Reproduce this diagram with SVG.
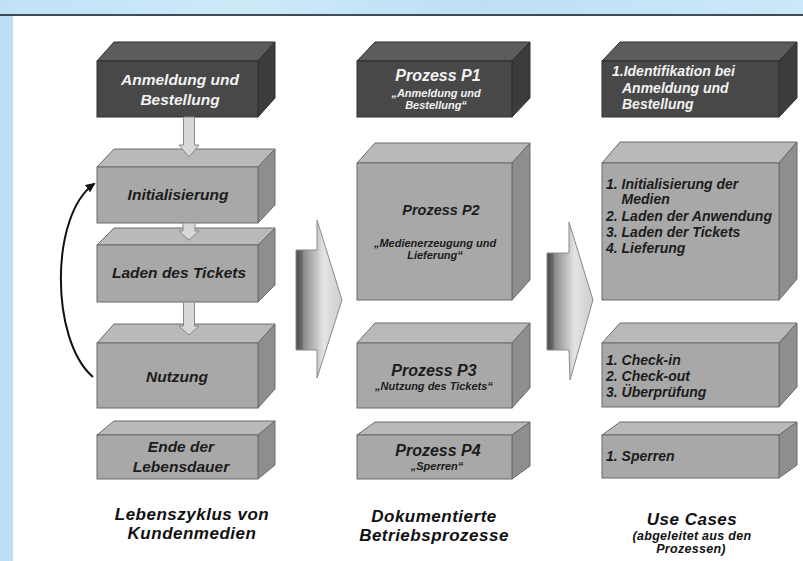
<svg xmlns="http://www.w3.org/2000/svg" width="803" height="561" viewBox="0 0 803 561">
<defs>
<linearGradient id="sky" x1="0" y1="0" x2="1" y2="0">
<stop offset="0" stop-color="#bfe2f6"/><stop offset="0.3" stop-color="#cde9f8"/><stop offset="0.6" stop-color="#bde0f5"/><stop offset="1" stop-color="#cbe8f8"/>
</linearGradient>
<linearGradient id="bigArrow" x1="0" y1="0" x2="1" y2="0">
<stop offset="0" stop-color="#4a4a4a"/><stop offset="0.13" stop-color="#6a6a6a"/><stop offset="0.17" stop-color="#8c8c8c"/><stop offset="0.6" stop-color="#e4e4e4"/><stop offset="1" stop-color="#cdcdcd"/>
</linearGradient>
<marker id="arrowHead" markerUnits="userSpaceOnUse" markerWidth="10" markerHeight="9" refX="8" refY="4.5" orient="auto">
<path d="M0,0 L10,4.5 L0,9 Z" fill="#111"/>
</marker>
<style>
.fd{fill:#484848;stroke:#2e2e2e;stroke-width:1}
.td{fill:#5c5c5c;stroke:#2e2e2e;stroke-width:1}
.rd{fill:#3c3c3c;stroke:#2e2e2e;stroke-width:1}
.fg{fill:#a8a8a8;stroke:#6a6a6a;stroke-width:1}
.tg{fill:#b9b9b9;stroke:#6a6a6a;stroke-width:1}
.rg{fill:#8e8e8e;stroke:#6a6a6a;stroke-width:1}
text{font-family:"Liberation Sans",Arial,sans-serif;font-weight:bold;font-style:italic}
.w{fill:#f2f2f2}
.k{fill:#1c1c1c}
.c{text-anchor:middle}
.s15{font-size:15.5px}
.s16{font-size:16px}
.s14{font-size:14px}
.s11{font-size:11px}
.cap{font-size:17px;letter-spacing:0.5px;fill:#111;text-anchor:middle}
.sub{font-size:12.5px;letter-spacing:0.3px;fill:#111;text-anchor:middle}
.dn{fill:#d8d8d8;stroke:#8a8a8a;stroke-width:1}
.big{fill:url(#bigArrow);stroke:#8a8a8a;stroke-width:1}
</style>
</defs>

<!-- background -->
<rect x="0" y="0" width="803" height="561" fill="#ffffff"/>
<rect x="0" y="0" width="803" height="15" fill="url(#sky)"/>
<rect x="0" y="15" width="13" height="546" fill="#bde0f5"/>
<line x1="0" y1="15" x2="803" y2="15" stroke="#3e4b58" stroke-width="2"/>

<!-- Column 1 -->
<g id="anmeldung">
<path class="td" d="M97 61 L114 42 L275 42 L258 61 Z"/>
<path class="rd" d="M258 61 L275 42 L275 98 L258 117 Z"/>
<rect class="fd" x="97" y="61" width="161" height="56"/>
<text class="w c s15" x="180" y="85">Anmeldung und</text>
<text class="w c s15" x="180" y="105">Bestellung</text>
</g>
<g id="initialisierung">
<path class="tg" d="M97 167 L114 149 L275 149 L258 167 Z"/>
<path class="rg" d="M258 167 L275 149 L275 205 L258 223 Z"/>
<rect class="fg" x="97" y="167" width="161" height="56"/>
<text class="k c s15" x="178" y="200">Initialisierung</text>
</g>
<g id="laden">
<path class="tg" d="M97 245 L114 228 L275 228 L258 245 Z"/>
<path class="rg" d="M258 245 L275 228 L275 285 L258 302 Z"/>
<rect class="fg" x="97" y="245" width="161" height="57"/>
<text class="k c s15" x="179" y="278">Laden des Tickets</text>
</g>
<g id="nutzung">
<path class="tg" d="M97 343 L114 324 L275 324 L258 343 Z"/>
<path class="rg" d="M258 343 L275 324 L275 389 L258 408 Z"/>
<rect class="fg" x="97" y="343" width="161" height="65"/>
<text class="k c s15" x="177" y="382">Nutzung</text>
</g>
<g id="ende">
<path class="tg" d="M97 435 L114 421 L275 421 L258 435 Z"/>
<path class="rg" d="M258 435 L275 421 L275 465 L258 479 Z"/>
<rect class="fg" x="97" y="435" width="161" height="44"/>
<text class="k c s15" x="181" y="452">Ende der</text>
<text class="k c s15" x="181" y="472">Lebensdauer</text>
</g>
<g id="caption-lebenszyklus">
<text class="cap" x="192" y="520">Lebenszyklus von</text>
<text class="cap" x="192" y="539">Kundenmedien</text>
</g>

<!-- Column 2 -->
<g id="p1">
<path class="td" d="M357 61 L375 42 L530 42 L512 61 Z"/>
<path class="rd" d="M512 61 L530 42 L530 98 L512 117 Z"/>
<rect class="fd" x="357" y="61" width="155" height="56"/>
<text class="w c s16" x="438" y="80.5">Prozess P1</text>
<text class="w c s11" x="436" y="96.5">„Anmeldung und</text>
<text class="w c s11" x="436" y="109">Bestellung“</text>
</g>
<g id="p2">
<path class="tg" d="M357 163 L375 143 L530 143 L512 163 Z"/>
<path class="rg" d="M512 163 L530 143 L530 280 L512 300 Z"/>
<rect class="fg" x="357" y="163" width="155" height="137"/>
<text class="k c" style="font-size:14.5px" x="441" y="215">Prozess P2</text>
<text class="k c s11" x="435" y="246.5">„Medienerzeugung und</text>
<text class="k c s11" x="435" y="259">Lieferung“</text>
</g>
<g id="p3">
<path class="tg" d="M357 343 L375 323 L530 323 L512 343 Z"/>
<path class="rg" d="M512 343 L530 323 L530 388 L512 408 Z"/>
<rect class="fg" x="357" y="343" width="155" height="65"/>
<text class="k c s16" x="434" y="375.5">Prozess P3</text>
<text class="k c s11" x="434" y="390">„Nutzung des Tickets“</text>
</g>
<g id="p4">
<path class="tg" d="M357 435 L375 422 L530 422 L512 435 Z"/>
<path class="rg" d="M512 435 L530 422 L530 466 L512 479 Z"/>
<rect class="fg" x="357" y="435" width="155" height="44"/>
<text class="k c s16" x="438" y="455.5">Prozess P4</text>
<text class="k c s11" x="437" y="469.5">„Sperren“</text>
</g>
<g id="caption-prozesse">
<text class="cap" x="434" y="522">Dokumentierte</text>
<text class="cap" x="434" y="541">Betriebsprozesse</text>
</g>

<!-- Column 3 -->
<g id="uc1">
<path class="td" d="M602 61 L620 42 L797 42 L779 61 Z"/>
<path class="rd" d="M779 61 L797 42 L797 98 L779 117 Z"/>
<rect class="fd" x="602" y="61" width="177" height="56"/>
<text class="w s14" x="612" y="76">1.Identifikation bei</text>
<text class="w s14" x="622" y="93">Anmeldung und</text>
<text class="w s14" x="622" y="109">Bestellung</text>
</g>
<g id="uc2">
<path class="tg" d="M602 163 L620 142 L797 142 L779 163 Z"/>
<path class="rg" d="M779 163 L797 142 L797 279 L779 300 Z"/>
<rect class="fg" x="602" y="163" width="177" height="137"/>
<text class="k s14" x="606" y="189">1. Initialisierung der</text>
<text class="k s14" x="621.5" y="204">Medien</text>
<text class="k s14" x="606" y="220.5">2. Laden der Anwendung</text>
<text class="k s14" x="606" y="236.5">3. Laden der Tickets</text>
<text class="k s14" x="606" y="252.5">4. Lieferung</text>
</g>
<g id="uc3">
<path class="tg" d="M602 343 L620 323 L797 323 L779 343 Z"/>
<path class="rg" d="M779 343 L797 323 L797 387 L779 407 Z"/>
<rect class="fg" x="602" y="343" width="177" height="64"/>
<text class="k s14" x="606" y="365">1. Check-in</text>
<text class="k s14" x="606" y="381">2. Check-out</text>
<text class="k s14" x="606" y="397">3. Überprüfung</text>
</g>
<g id="uc4">
<path class="tg" d="M602 435 L620 422 L797 422 L779 435 Z"/>
<path class="rg" d="M779 435 L797 422 L797 465 L779 478 Z"/>
<rect class="fg" x="602" y="435" width="177" height="43"/>
<text class="k s14" x="606" y="461">1. Sperren</text>
</g>
<g id="caption-usecases">
<text class="cap" x="692" y="525">Use Cases</text>
<text class="sub" x="692" y="540">(abgeleitet aus den</text>
<text class="sub" x="691" y="553">Prozessen)</text>
</g>

<!-- Connectors -->
<g id="connectors">
<path class="dn" d="M183.5 117 H194.5 V145 H199 L189 157 L179 145 H183.5 Z"/>
<path class="dn" d="M183 223 H195 V231 H199 L189 240 L179 231 H183 Z"/>
<path class="dn" d="M183.5 302 H194.5 V326 H199 L189 335 L179 326 H183.5 Z"/>
<path d="M93 377 C50 340 50 215 94 184" fill="none" stroke="#111" stroke-width="2" marker-end="url(#arrowHead)"/>
<path class="big" d="M296 250 H317 V220 L342 300 L317 378 V350 H296 Z"/>
<path class="big" d="M547 253 H569 V222 L593 300 L570 380 L569 350 H547 Z"/>
</g>
</svg>
